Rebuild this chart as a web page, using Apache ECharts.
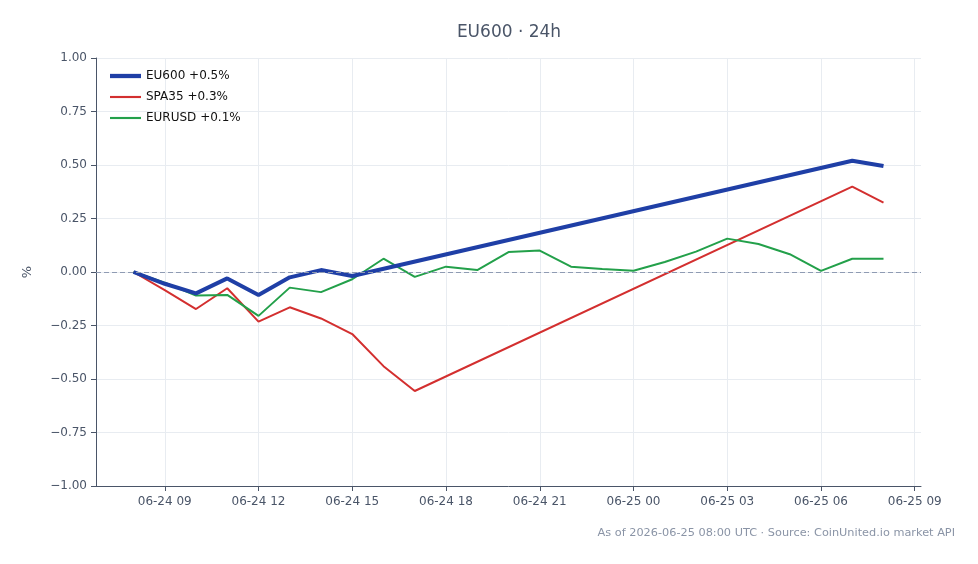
<!DOCTYPE html>
<html>
<head>
<meta charset="utf-8">
<script src="https://cdn.jsdelivr.net/npm/echarts@6/dist/echarts.min.js"></script>
<style>
  html, body { margin: 0; padding: 0; background: #fff; }
  #chart { width: 978px; height: 564px; }
</style>
</head>
<body>
<div id="chart"></div>
<script>
// hours counted from 06-24 00:00 UTC
var hours = [8, 9, 10, 11, 12, 13, 14, 15, 16, 17, 18, 19, 20, 21, 22, 23, 24, 25, 26, 27, 28, 29, 30, 31, 32]

var eu600 = [0, -0.055, -0.10, -0.03, -0.107, -0.025, 0.009, -0.019,
	null, null, null, null, null, null, null, null, null, null, null, null, null, null, null,
	0.52, 0.495]
var spa35 = [0, -0.085, -0.173, -0.076, -0.232, -0.165, -0.217, -0.29, -0.44, -0.556,
	null, null, null, null, null, null, null, null, null, null, null, null, null,
	0.399, 0.324]
var eurusd = [0, -0.05, -0.11, -0.107, -0.205, -0.073, -0.094, -0.034, 0.062, -0.023,
	0.025, 0.009, 0.093, 0.10, 0.025, 0.014, 0.006, 0.047, 0.095, 0.156, 0.131, 0.083, 0.005,
	0.062, 0.062]

var seriesNames = ['EU600 +0.5%', 'SPA35 +0.3%', 'EURUSD +0.1%']
var xTickHours = [9, 12, 15, 18, 21, 24, 27, 30, 33]
var xTickLabels = ['06-24 09', '06-24 12', '06-24 15', '06-24 18', '06-24 21',
	'06-25 00', '06-25 03', '06-25 06', '06-25 09']

function pairs(vals) {
	return hours.map(function(h, i) { return [h, vals[i]] })
}

var font = 'DejaVu Sans'
var axisColor = '#4a5568'
var gridColor = '#e8ecf1'
var colors = ['#1f3fa6', '#d32f2f', '#23a04a']

var chart = echarts.init(document.getElementById('chart'))

var option = {}
option.animation = false

option.title = {
	text: 'EU600 · 24h',
	left: 504,
	textAlign: 'center',
	top: 19,
	textStyle: { fontFamily: font, fontSize: 17, fontWeight: 'normal', color: '#4a5568' }
}

// legend icons: thin bars, blue one thicker like its line
option.legend = {
	orient: 'vertical',
	left: 105,
	top: 65,
	itemWidth: 31,
	itemHeight: 10,
	itemGap: 9,
	symbolKeepAspect: true,
	textStyle: { fontFamily: font, fontSize: 12, color: '#111' },
	data: [
		{ name: seriesNames[0], icon: 'path://M0,0H29V4H0Z' },
		{ name: seriesNames[1], icon: 'path://M0,0H29V2H0Z' },
		{ name: seriesNames[2], icon: 'path://M0,0H29V2H0Z' }
	]
}

option.grid = { left: 96, right: 57, top: 58, bottom: 78 }

option.xAxis = {
	type: 'value',
	min: 6.8,
	max: 33.2,
	axisLine: { onZero: false, lineStyle: { color: axisColor, width: 1 } },
	axisTick: { show: true, length: 5, lineStyle: { color: axisColor }, customValues: xTickHours },
	axisLabel: {
		customValues: xTickHours,
		margin: 10,
		fontFamily: font, fontSize: 12, color: axisColor,
		formatter: function(v) { return xTickLabels[xTickHours.indexOf(v)] }
	},
	splitLine: { show: true, lineStyle: { color: gridColor } }
}

option.yAxis = {
	type: 'value',
	min: -1,
	max: 1,
	interval: 0.25,
	name: '%',
	nameLocation: 'middle',
	nameGap: 62,
	nameTextStyle: { fontFamily: font, fontSize: 13, color: axisColor },
	axisLine: { show: true, lineStyle: { color: axisColor } },
	axisTick: { show: true, length: 5, lineStyle: { color: axisColor } },
	axisLabel: {
		margin: 9,
		fontFamily: font, fontSize: 12, color: axisColor,
		formatter: function(v) { return v.toFixed(2).replace('-', '\u2212') }
	},
	splitLine: { show: true, lineStyle: { color: gridColor } }
}

option.graphic = [{
	type: 'text',
	right: 23,
	top: 528,
	style: {
		text: 'As of 2026-06-25 08:00 UTC · Source: CoinUnited.io market API',
		fontFamily: font,
		fontSize: 11.3,
		fill: '#8a94a6'
	}
}]

option.series = [{
	name: seriesNames[0],
	type: 'line',
	symbol: 'none',
	connectNulls: true,
	lineStyle: { color: colors[0], width: 4 },
	itemStyle: { color: colors[0] },
	data: pairs(eu600),
	z: 4,
	markLine: {
		silent: true,
		symbol: ['none', 'none'],
		label: { show: false },
		lineStyle: { color: '#8f9bb3', type: [5, 3], width: 1 },
		data: [{ yAxis: 0 }]
	}
}, {
	name: seriesNames[1],
	type: 'line',
	symbol: 'none',
	connectNulls: true,
	lineStyle: { color: colors[1], width: 2 },
	itemStyle: { color: colors[1] },
	data: pairs(spa35),
	z: 3
}, {
	name: seriesNames[2],
	type: 'line',
	symbol: 'none',
	connectNulls: true,
	lineStyle: { color: colors[2], width: 2 },
	itemStyle: { color: colors[2] },
	data: pairs(eurusd),
	z: 3
}]

chart.setOption(option)
</script>
</body>
</html>
